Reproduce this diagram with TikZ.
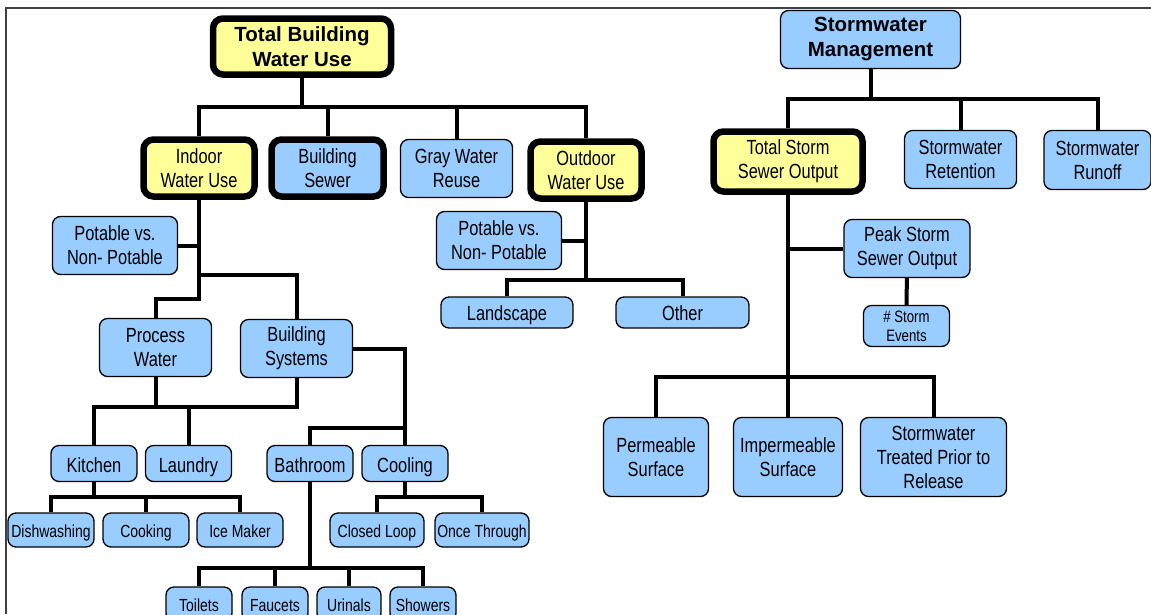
\documentclass[tikz,border=0pt]{standalone}
\usepackage{fontspec}
\setmainfont{Liberation Sans}
\newfontfamily\narrowsf{Liberation Sans}[FakeStretch=0.8]
\usetikzlibrary{positioning,calc}
\definecolor{lemon}{HTML}{FFFF99}
\definecolor{sky}{HTML}{99CCFF}

\begin{document}
\begin{tikzpicture}[
    x=1pt, y=-1pt,
    box/.style={draw, rounded corners=8pt, fill=sky, line width=1.3pt, inner sep=0pt, align=center, minimum width=112pt, minimum height=58pt, font=\narrowsf\fontsize{20.5}{24}\selectfont},
    heavy/.style={line width=6.5pt, rounded corners=10pt},
    focus/.style={heavy, fill=lemon},
    head/.style={font=\bfseries\fontsize{20.5}{25}\selectfont},
    mid/.style={minimum width=86pt, minimum height=36pt, text height=17pt, text depth=0pt},
    bar/.style={minimum height=31pt, text height=16.5pt, text depth=0pt},
    leaf/.style={minimum width=86pt, minimum height=34pt, text height=14pt, text depth=0pt, font=\narrowsf\fontsize{17.5}{21}\selectfont},
    link/.style={line width=4pt}
  ]
    \useasboundingbox (0,0) rectangle (1151,614);
    \draw[line width=1.5pt, black!75] (6,614) -- (6,8) -- (1151,8);
    % Building water use
    \node[box, focus, head, minimum width=178pt, minimum height=56pt] (total) at (302,46.5) {Total Building\\ Water Use};
    \node[box, focus, minimum width=111pt, minimum height=57pt] (indoor) at (199,168) {Indoor\\ Water Use};
    \node[box, heavy, minimum height=57pt] (sewer) at (327.5,168) {Building\\ Sewer};
    \node[box] (gray) at (456.5,168.5) {Gray Water\\ Reuse};
    \node[box, focus, minimum width=111pt, minimum height=57pt] (outdoor) at (586,170) {Outdoor\\ Water Use};
    \node[box, minimum width=125pt] (potL) at (115,245.5) {Potable vs.\\ Non- Potable};
    \node[box, minimum width=125pt] (potR) at (499,240.5) {Potable vs.\\ Non- Potable};
    \node[box, bar, minimum width=132pt] (landscape) at (507,312.5) {Landscape};
    \node[box, bar, minimum width=133pt] (other) at (682.5,312.5) {Other};
    \node[box] (process) at (155.5,347.5) {Process\\ Water};
    \node[box] (bsys) at (296.5,348.5) {Building\\ Systems};
    % Indoor end uses
    \node[box, mid] (kitchen) at (94,463.5) {Kitchen};
    \node[box, mid] (laundry) at (188.5,463.5) {Laundry};
    \node[box, mid] (bathroom) at (310,463.5) {Bathroom};
    \node[box, mid] (cooling) at (405,463.5) {Cooling};
    \node[box, leaf] (dish) at (51,530) {Dishwashing};
    \node[box, leaf] (cooking) at (146,530) {Cooking};
    \node[box, leaf] (ice) at (240,530) {Ice Maker};
    \node[box, leaf, minimum width=94pt] (closed) at (377,530) {Closed Loop};
    \node[box, leaf, minimum width=94pt] (once) at (482,530) {Once Through};
    \node[box, leaf, minimum width=66pt] (toilets) at (199,604) {Toilets};
    \node[box, leaf, minimum width=66pt] (faucets) at (275,604) {Faucets};
    \node[box, leaf, minimum width=64pt] (urinals) at (349,604) {Urinals};
    \node[box, leaf, minimum width=66pt] (showers) at (423,604) {Showers};
    % Stormwater
    \node[box, head, minimum width=180pt] (storm) at (870.5,39.5) {Stormwater\\ Management};
    \node[box, focus, minimum width=149pt, minimum height=60pt] (sewerout) at (788,161.5) {Total Storm\\ Sewer Output};
    \node[box] (retention) at (960.5,159.5) {Stormwater\\ Retention};
    \node[box, minimum width=107pt, minimum height=59pt] (runoff) at (1097.5,160) {Stormwater\\ Runoff};
    \node[box, minimum width=126pt] (peak) at (907,248.5) {Peak Storm\\ Sewer Output};
    \node[box, minimum width=86pt, minimum height=41pt, font=\narrowsf\fontsize{16.5}{19}\selectfont] (events) at (906.5,326) {\# Storm\\ Events};
    \node[box, minimum width=105pt, minimum height=79pt] (perm) at (656,457) {Permeable\\ Surface};
    \node[box, minimum width=109pt, minimum height=79pt] (imperm) at (788,457) {Impermeable\\ Surface};
    \node[box, minimum width=146pt, minimum height=79pt] (treated) at (933.5,457) {Stormwater\\ Treated Prior to\\ Release};
    % Junctions
    \coordinate (jTop) at (302,107);
    \coordinate (jIn) at (199,299);
    \coordinate (jSys) at (199,275);
    \coordinate (jProc) at (155.5,407);
    \coordinate (jBs) at (405,428);
    \coordinate (jKit) at (94,497);
    \coordinate (jCool) at (405,497);
    \coordinate (jBath) at (310,568);
    \coordinate (jOut) at (586,280);
    \coordinate (jStorm) at (870.5,99);
    \coordinate (jSo) at (788,377);
    % Links
    \draw[link] (total.south) -- (jTop);
    \foreach \n in {indoor,sewer,gray,outdoor}
      \draw[link] (jTop) -| (\n.north);
    \draw[link] (indoor.south) -- (jIn) -| (process.north);
    \draw[link] (potL.east) -- (potL.east -| indoor.south);
    \draw[link] (jSys) -| (bsys.north);
    \draw[link] (process.south) -- (jProc);
    \draw[link] (bsys.south) |- (jProc);
    \foreach \n in {kitchen,laundry}
      \draw[link] (jProc) -| (\n.north);
    \draw[link] (bsys.east) -| (cooling.north);
    \draw[link] (jBs) -| (bathroom.north);
    \draw[link] (kitchen.south) -- (jKit);
    \foreach \n in {dish,cooking,ice}
      \draw[link] (jKit) -| (\n.north);
    \draw[link] (cooling.south) -- (jCool);
    \foreach \n in {closed,once}
      \draw[link] (jCool) -| (\n.north);
    \draw[link] (bathroom.south) -- (jBath);
    \foreach \n in {toilets,faucets,urinals,showers}
      \draw[link] (jBath) -| (\n.north);
    \draw[link] (outdoor.south) -- (jOut);
    \draw[link] (potR.east) -- (potR.east -| outdoor.south);
    \foreach \n in {landscape,other}
      \draw[link] (jOut) -| (\n.north);
    \draw[link] (storm.south) -- (jStorm);
    \foreach \n in {sewerout,retention,runoff}
      \draw[link] (jStorm) -| (\n.north);
    \draw[link] (sewerout.south) -- (jSo);
    \draw[link] (peak.west) -- (peak.west -| sewerout.south);
    \draw[link] (peak) -- (events);
    \foreach \n in {perm,imperm,treated}
      \draw[link] (jSo) -| (\n.north);
\end{tikzpicture}
\end{document}
